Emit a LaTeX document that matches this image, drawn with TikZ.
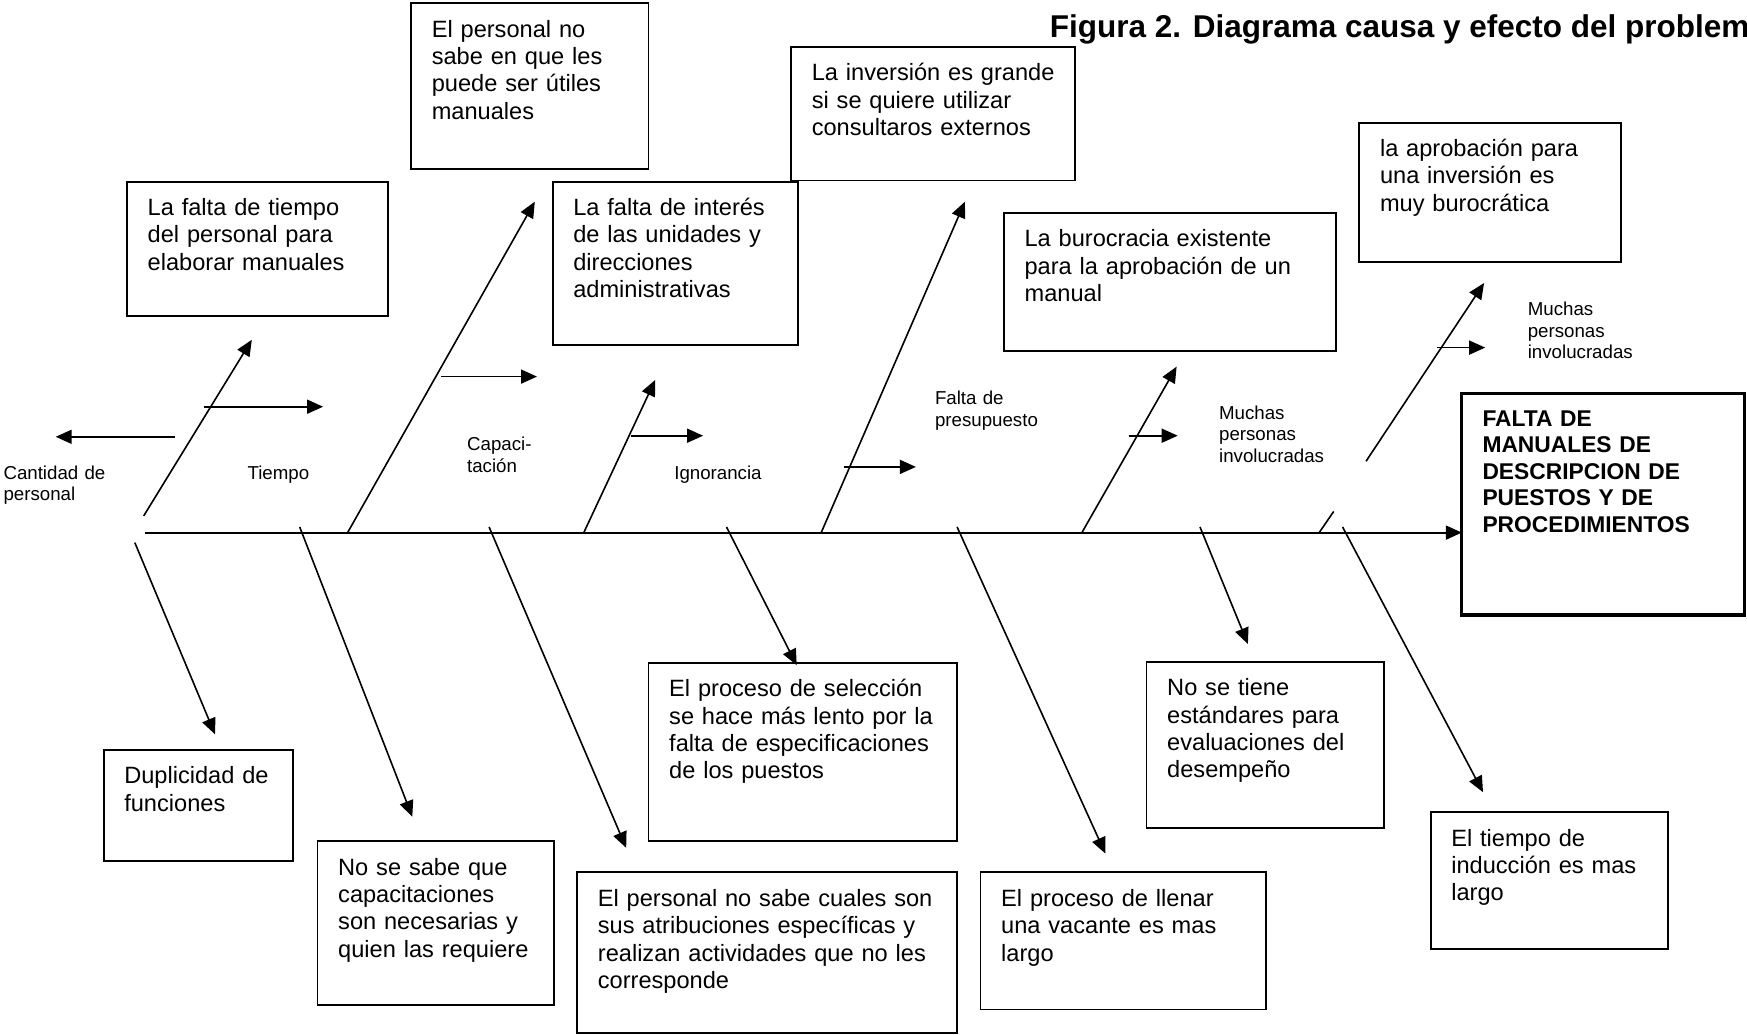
\documentclass[tikz,border=0pt]{standalone}
\usepackage{fontspec}
\setmainfont{Liberation Sans}
\usetikzlibrary{arrows.meta}

\begin{document}
\begin{tikzpicture}[x=1pt,y=-1pt,
    caja/.style={draw, line width=1.9pt, anchor=north west, align=left,
      inner xsep=20.7pt, inner ysep=0pt, outer sep=0pt, text height=34pt,
      font=\fontsize{23.6}{27.3}\selectfont},
    efecto/.style={caja, line width=3.2pt, text height=33pt,
      font=\bfseries\fontsize{22.8}{26.5}\selectfont},
    etiqueta/.style={anchor=base west, align=left, inner sep=0pt,
      text width=160pt, font=\fontsize{18.7}{21.8}\selectfont},
    hueso/.style={line width=1.6pt},
    flecha/.style={hueso, -{Triangle[length=16pt,width=14pt]}}]
  \useasboundingbox (0,0) rectangle (1747,1035);

  \node[anchor=base west, inner sep=0pt, font=\bfseries\fontsize{31.5}{36}\selectfont]
    (titulo) at (1049.6,38) {Figura 2. Diagrama causa y efecto del problem};

  \node[caja, text width=196pt, text depth=132pt] (utiles) at (411.1,3.3)
    {El personal no\\sabe en que les\\puede ser útiles\\manuales};
  \node[caja, text width=242.7pt, text depth=99.7pt] (inversion) at (791.1,46.8)
    {\mbox{La inversión es grande}\\si se quiere utilizar\\consultaros externos};
  \node[caja, text width=220.5pt, text depth=105.3pt] (aprobacion) at (1359.3,122.6)
    {la aprobación para\\una inversión es\\muy burocrática};
  \node[caja, text width=219.3pt, text depth=100.8pt] (faltatiempo) at (127,181.6)
    {La falta de tiempo\\del personal para\\elaborar manuales};
  \node[caja, text width=203.8pt, text depth=129.8pt] (interes) at (552.6,181.6)
    {La falta de interés\\de las unidades y\\direcciones\\administrativas};
  \node[caja, text width=290.6pt, text depth=104.2pt] (burocracia) at (1003.9,212.8)
    {La burocracia existente\\para la aprobación de un\\manual};
  \node[efecto, text width=241.6pt, text depth=188.7pt] (problema) at (1461.8,393.3)
    {FALTA DE\\MANUALES DE\\DESCRIPCION DE\\PUESTOS Y DE\\PROCEDIMIENTOS};
  \node[caja, text width=148pt, text depth=77.4pt] (duplicidad) at (103.6,749.9)
    {Duplicidad de\\funciones};
  \node[caja, text width=194.9pt, text depth=129.8pt] (capacitaciones) at (317.5,841.2)
    {No se sabe que\\capacitaciones\\son necesarias y\\quien las requiere};
  \node[caja, text width=338.5pt, text depth=127pt] (atribuciones) at (577.2,872.4)
    {El personal no sabe cuales son\\sus atribuciones específicas y\\realizan actividades que no les\\corresponde};
  \node[caja, text width=267.2pt, text depth=144.3pt] (seleccion) at (648.5,662.9)
    {El proceso de selección\\se hace más lento por la\\falta de especificaciones\\de los puestos};
  \node[caja, text width=243.8pt, text depth=103.1pt] (vacante) at (980.5,872.4)
    {El proceso de llenar\\una vacante es mas\\largo};
  \node[caja, text width=195.9pt, text depth=132.1pt] (estandares) at (1146.5,661.8)
    {No se tiene\\estándares para\\evaluaciones del\\desempeño};
  \node[caja, text width=196pt, text depth=103pt] (induccion) at (1430.6,812.3)
    {El tiempo de\\inducción es mas\\largo};

  \node[etiqueta] (cantidad) at (3.3,479.1) {Cantidad de\\personal};
  \node[etiqueta] (tiempo) at (247.4,479.1) {Tiempo};
  \node[etiqueta] (capacitacion) at (466.9,450.2) {Capaci-\\tación};
  \node[etiqueta] (ignorancia) at (674.1,479.1) {Ignorancia};
  \node[etiqueta] (presupuesto) at (934.8,404.5) {Falta de\\presupuesto};
  \node[etiqueta] (personas) at (1218.9,419) {Muchas\\personas\\involucradas};
  \node[etiqueta] (personasb) at (1527.6,315.3) {Muchas\\personas\\involucradas};

  \coordinate (espina) at (144.8,532.6);
  \draw[line width=2pt, -{Triangle[length=16pt,width=14pt]}] (espina) -- (espina -| problema.west);

  \path (143.7,515.9) coordinate (s1) (251.8,339.8) coordinate (p1)
        (347.6,532.6) coordinate (s2) (534.8,201.7) coordinate (p2)
        (583.8,532.6) coordinate (s3) (655.2,379.9) coordinate (p3)
        (821.2,532.6) coordinate (s4) (964.9,201.7) coordinate (p4)
        (1081.9,532.6) coordinate (s5) (1176.6,366.6) coordinate (p5)
        (1319.2,532.6) coordinate (s6) (1333.7,511.4) coordinate (q6)
        (1366,461.3) coordinate (r6) (1484.1,283) coordinate (p6);
  \draw[flecha] (s1) -- (p1);
  \draw[flecha] (s2) -- (p2);
  \draw[flecha] (s3) -- (p3);
  \draw[flecha] (s4) -- (p4);
  \draw[flecha] (s5) -- (p5);
  \draw[hueso] (s6) -- (q6);
  \draw[flecha] (r6) -- (p6);

  \path (174.9,436.8) coordinate (h0) (55.7,436.8) coordinate (k0)
        (203.9,406.7) coordinate (h1) (323.1,406.7) coordinate (k1)
        (441.2,376.6) coordinate (h2) (537,376.6) coordinate (k2)
        (630.6,435.7) coordinate (h3) (703.1,435.7) coordinate (k3)
        (843.5,466.9) coordinate (h4) (915.9,466.9) coordinate (k4)
        (1128.7,435.7) coordinate (h5) (1177.7,435.7) coordinate (k5)
        (1437.3,347.6) coordinate (h6) (1485.2,347.6) coordinate (k6);
  \draw[flecha] (h0) -- (k0);
  \draw[flecha] (h1) -- (k1);
  \draw[flecha] (h2) -- (k2);
  \draw[flecha] (h3) -- (k3);
  \draw[flecha] (h4) -- (k4);
  \draw[flecha] (h5) -- (k5);
  \draw[flecha] (h6) -- (k6);

  \path (134.8,542.6) coordinate (d1) (215,734.3) coordinate (e1)
        (299.7,527) coordinate (d2) (412.3,816.7) coordinate (e2)
        (489.1,527) coordinate (d3) (626.2,847.9) coordinate (e3)
        (726.5,527) coordinate (d4) (796.7,665.2) coordinate (e4)
        (957.1,527) coordinate (d5) (1105.3,853.5) coordinate (e5)
        (1200,527) coordinate (d6) (1247.9,644) coordinate (e6)
        (1342.6,527) coordinate (d7) (1483,792.2) coordinate (e7);
  \draw[flecha] (d1) -- (e1);
  \draw[flecha] (d2) -- (e2);
  \draw[flecha] (d3) -- (e3);
  \draw[flecha] (d4) -- (e4);
  \draw[flecha] (d5) -- (e5);
  \draw[flecha] (d6) -- (e6);
  \draw[flecha] (d7) -- (e7);
\end{tikzpicture}
\end{document}
